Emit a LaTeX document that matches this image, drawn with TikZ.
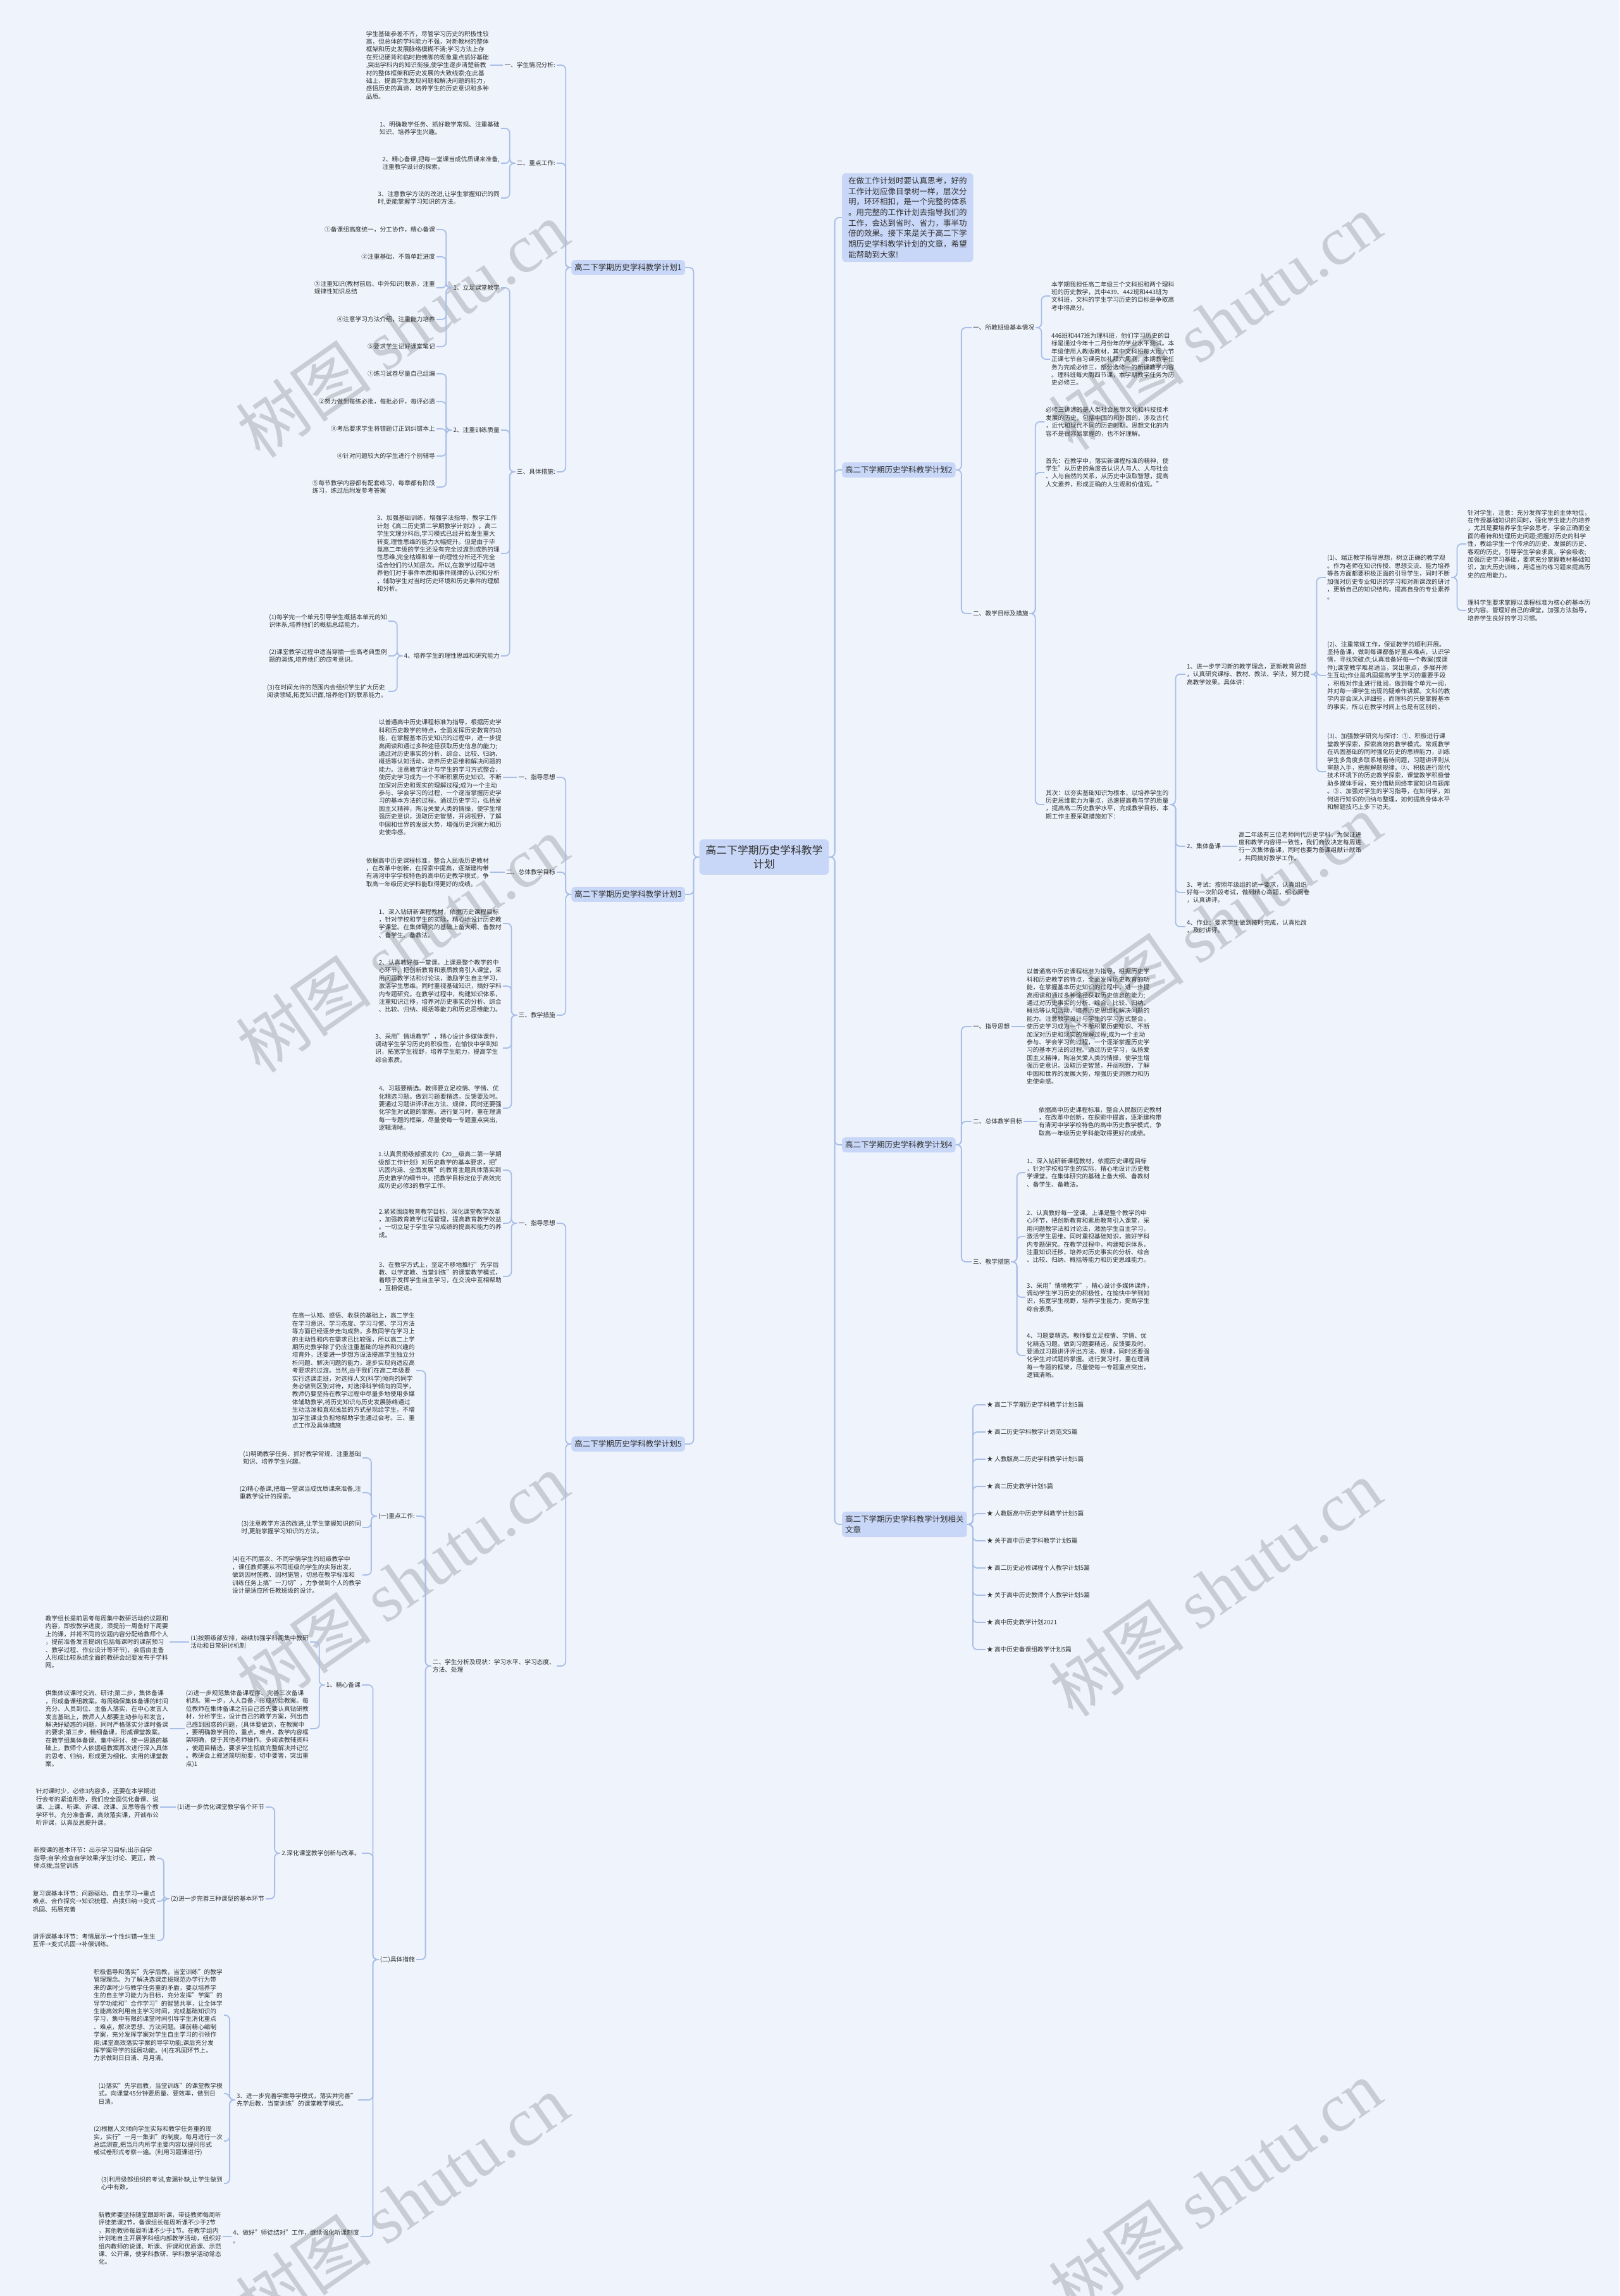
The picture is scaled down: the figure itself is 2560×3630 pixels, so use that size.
\documentclass[tikz,border=0pt]{standalone}
\usepackage{fontspec}
\setmainfont{Noto Sans CJK SC}
\newfontfamily\wmserif{Liberation Serif}
\usetikzlibrary{calc}
\definecolor{bgc}{HTML}{EEF3FC}
\definecolor{nodefill}{HTML}{C8D7F7}
\definecolor{conncol}{HTML}{A8BEE6}
\definecolor{txt}{HTML}{303030}
\definecolor{wmc}{HTML}{C8CCD4}
\newcommand\Lk[2]{\draw[conn] (#1.west) -- ++(-9,0) |- (#2.east);}
\newcommand\Rk[2]{\draw[conn] (#1.east) -- ++(9,0) |- (#2.west);}
\newcommand\Ls[2]{\draw[conn] (#1.west) -- (#2.east |- #1.west);}
\newcommand\Rs[2]{\draw[conn] (#1.east) -- (#2.west |- #1.east);}
\newcommand\mtZhidao{以普通高中历史课程标准为指导，根据历史学\\科和历史教学的特点，全面发挥历史教育的功\\能，在掌握基本历史知识的过程中，进一步提\\高阅读和通过多种途径获取历史信息的能力;\\通过对历史事实的分析、综合、比较、归纳、\\概括等认知活动，培养历史思维和解决问题的\\能力。注意教学设计与学生的学习方式整合，\\使历史学习成为一个不断积累历史知识、不断\\加深对历史和现实的理解过程;成为一个主动\\参与、学会学习的过程，一个逐渐掌握历史学\\习的基本方法的过程。通过历史学习，弘扬爱\\国主义精神，陶冶关爱人类的情操，使学生增\\强历史意识，汲取历史智慧，开阔视野，了解\\中国和世界的发展大势，增强历史洞察力和历\\史使命感。}
\newcommand\mtMubiao{依据高中历史课程标准，整合人民版历史教材\\，在改革中创新，在探索中提高，逐渐建构带\\有清河中学学校特色的高中历史教学模式，争\\取高一年级历史学科能取得更好的成绩。}
\newcommand\mtCsA{1、深入钻研新课程教材，依据历史课程目标\\，针对学校和学生的实际，精心地设计历史教\\学课堂。在集体研究的基础上备大纲、备教材\\、备学生、备教法。}
\newcommand\mtCsB{2、认真教好每一堂课。上课是整个教学的中\\心环节，把创新教育和素质教育引入课堂，采\\用问题教学法和讨论法，激励学生自主学习，\\激活学生思维。同时重视基础知识，搞好学科\\内专题研究。在教学过程中，构建知识体系，\\注重知识迁移，培养对历史事实的分析、综合\\、比较、归纳、概括等能力和历史思维能力。}
\newcommand\mtCsC{3、采用"情境教学"，精心设计多媒体课件，\\调动学生学习历史的积极性，在愉快中学到知\\识，拓宽学生视野，培养学生能力，提高学生\\综合素质。}
\newcommand\mtCsD{4、习题要精选。教师要立足校情、学情、优\\化精选习题。做到习题要精选，反馈要及时。\\要通过习题讲评评出方法、规律，同时还要强\\化学生对试题的掌握。进行复习时，重在理清\\每一专题的框架，尽量使每一专题重点突出，\\逻辑清晰。}
\begin{document}
\begin{tikzpicture}[x=1pt,y=-1pt,
  conn/.style={draw=conncol, line width=1.8pt, rounded corners=7pt},
  lf/.style={font=\fontsize{9.7}{12.4}\selectfont, text=txt, inner sep=2pt, align=left},
  lfl/.style={lf, anchor=east},
  lfr/.style={lf, anchor=west},
  topic/.style={fill=nodefill, rounded corners=5pt, font=\fontsize{12.5}{16.7}\selectfont, text=txt, inner xsep=5pt, inner ysep=6pt, align=left},
  centre/.style={fill=nodefill, rounded corners=6pt, font=\fontsize{16.8}{22}\selectfont, text=txt, inner xsep=10pt, inner ysep=9pt, align=center},
  wmk/.style={text=wmc, font=\fontsize{108}{108}\selectfont, rotate=35}
]
\useasboundingbox (0,0) rectangle (2560,3630);
\fill[bgc] (0,0) rectangle (2560,3630);
% watermarks
\foreach \wx/\wy in {636/521,1921/509,636/1493,1921/1458,636/2500,1921/2511,636/3483,1921/3460}
  \node[wmk] at (\wx,\wy) {树图 {\wmserif shutu.cn}};

% centre
\node[centre] (C) at (1208,1355) {高二下学期历史学科教学\\计划};

% ================= LEFT =================
\node[topic, anchor=east] (p1) at (1083,423) {高二下学期历史学科教学计划1};
\node[topic, anchor=east] (p3) at (1083,1414) {高二下学期历史学科教学计划3};
\node[topic, anchor=east] (p5) at (1083,2283) {高二下学期历史学科教学计划5};

% --- plan 1
\node[lfl] (a1) at (880,103) {一、学生情况分析:};
\node[lfl] (a1c) at (775,103) {学生基础参差不齐，尽管学习历史的积极性较\\高，但总体的学科能力不强，对新教材的整体\\框架和历史发展脉络模糊不清;学习方法上存\\在死记硬背和临时抱佛脚的现象重点抓好基础\\,突出学科内的知识衔接,使学生逐步清楚新教\\材的整体框架和历史发展的大致线索;在此基\\础上，提高学生发现问题和解决问题的能力，\\感悟历史的真谛，培养学生的历史意识和多种\\品质。};
\node[lfl] (a2) at (880,258) {二、重点工作:};
\node[lfl] (a2c1) at (792,203) {1、明确教学任务、抓好教学常规、注重基础\\知识、培养学生兴趣。};
\node[lfl] (a2c2) at (792,258) {2、精心备课,把每一堂课当成优质课来准备,\\注重教学设计的探索。};
\node[lfl] (a2c3) at (792,313) {3、注意教学方法的改进,让学生掌握知识的同\\时,更能掌握学习知识的方法。};
\node[lfl] (a3) at (880,746) {三、具体措施:};
\node[lfl] (b1) at (792,455) {1、立足课堂教学};
\node[lfl] (b2) at (792,680) {2、注重训练质量};
\node[lfl] (b3) at (792,875) {3、加强基础训练，增强学法指导，教学工作\\计划《高二历史第二学期教学计划2》。高二\\学生文理分科后,学习模式已经开始发生重大\\转变,理性思维的能力大幅提升。但是由于毕\\竟高二年级的学生还没有完全过渡到成熟的理\\性思维,完全枯燥和单一的理性分析还不完全\\适合他们的认知层次。所以,在教学过程中培\\养他们对于事件本质和事件规律的认识和分析\\，辅助学生对当时历史环境和历史事件的理解\\和分析。};
\node[lfl] (b4) at (792,1037) {4、培养学生的理性思维和研究能力};
\node[lfl] (c1) at (690,363) {①备课组高度统一，分工协作，精心备课};
\node[lfl] (c2) at (690,406) {②注重基础，不简单赶进度};
\node[lfl] (c3) at (690,455) {③注重知识(教材前后、中外知识)联系，注重\\规律性知识总结};
\node[lfl] (c4) at (690,505) {④注意学习方法介绍，注重能力培养};
\node[lfl] (c5) at (690,548) {⑤要求学生记好课堂笔记};
\node[lfl] (d1) at (690,591) {①练习试卷尽量自己组编};
\node[lfl] (d2) at (690,635) {②努力做到每练必批，每批必评，每评必透};
\node[lfl] (d3) at (690,678) {③考后要求学生将错题订正到纠错本上};
\node[lfl] (d4) at (690,721) {④针对问题较大的学生进行个别辅导};
\node[lfl] (d5) at (690,770) {⑤每节教学内容都有配套练习，每章都有阶段\\练习，练过后附发参考答案};
\node[lfl] (e1) at (614,982) {(1)每学完一个单元引导学生概括本单元的知\\识体系,培养他们的概括总结能力。};
\node[lfl] (e2) at (614,1037) {(2)课堂教学过程中适当穿插一些高考典型例\\题的演练,培养他们的应考意识。};
\node[lfl] (e3) at (614,1093) {(3)在时间允许的范围内会组织学生扩大历史\\阅读领域,拓宽知识面,培养他们的联系能力。};

% --- plan 3
\node[lfl] (f1) at (880,1229) {一、指导思想};
\node[lfl] (f1c) at (795,1229) {\mtZhidao};
\node[lfl] (f2) at (880,1379) {二、总体教学目标};
\node[lfl] (f2c) at (775,1379) {\mtMubiao};
\node[lfl] (f3) at (880,1605) {三、教学措施};
\node[lfl] (g1) at (795,1460) {\mtCsA};
\node[lfl] (g2) at (795,1559) {\mtCsB};
\node[lfl] (g3) at (795,1657) {\mtCsC};
\node[lfl] (g4) at (795,1752) {\mtCsD};

% --- plan 5
\node[lfl] (h1) at (880,1934) {一、指导思想};
\node[lfl] (h1a) at (795,1850) {1.认真贯彻级部颁发的《20\_\_级高二第一学期\\级部工作计划》对历史教学的基本要求，把"\\巩固内涵、全面发展"的教育主题具体落实到\\历史教学的细节中。把教学目标定位于高效完\\成历史必修3的教学工作。};
\node[lfl] (h1b) at (795,1934) {2.紧紧围绕教育教学目标，深化课堂教学改革\\，加强教育教学过程管理，提高教育教学效益\\。一切立足于学生学习成绩的提高和能力的养\\成。};
\node[lfl] (h1c) at (795,2018) {3、在教学方式上，坚定不移地推行"先学后\\教、以学定教、当堂训练"的课堂教学模式，\\着眼于发挥学生自主学习，在交流中互相帮助\\，互相促进。};
\node[lfl] (h2) at (880,2634) {二、学生分析及现状：学习水平、学习态度、\\方法、处理};
\node[lfl] (h2a) at (658,2167) {在高一认知、感悟、收获的基础上，高二学生\\在学习意识、学习态度、学习习惯、学习方法\\等方面已经逐步走向成熟，多数同学在学习上\\的主动性和内在需求已比较强，所以高二上学\\期历史教学除了仍应注重基础的培养和兴趣的\\培育外，还要进一步想方设法提高学生独立分\\析问题、解决问题的能力，逐步实现向适应高\\考要求的过渡。当然,由于我们在高二年级要\\实行选课走班，对选择人文(科学)倾向的同学\\务必做到区别对待，对选择科学倾向的同学，\\教师仍要坚持在教学过程中尽量多地使用多媒\\体辅助教学,将历史知识与历史发展脉络通过\\生动活泼和直观浅显的方式呈现给学生，不增\\加学生课业负担地帮助学生通过会考。三、重\\点工作及具体措施};
\node[lfl] (h2b) at (658,2397) {(一)重点工作:};
\node[lfl] (h2c) at (658,3098) {(二)具体措施};
\node[lfl] (i1) at (573,2305) {(1)明确教学任务、抓好教学常规、注重基础\\知识、培养学生兴趣。};
\node[lfl] (i2) at (573,2360) {(2)精心备课,把每一堂课当成优质课来准备,注\\重教学设计的探索。};
\node[lfl] (i3) at (573,2415) {(3)注意教学方法的改进,让学生掌握知识的同\\时,更能掌握学习知识的方法。};
\node[lfl] (i4) at (573,2490) {(4)在不同层次、不同学情学生的班级教学中\\，课任教师要从不同班级的学生的实际出发，\\做到因材施教、因材施管，切忌在教学标准和\\训练任务上搞"一刀切"，力争做到个人的教学\\设计是适应所任教班级的设计。};
\node[lfl] (j1) at (572,2664) {1、精心备课};
\node[lfl] (j2) at (572,2930) {2.深化课堂教学创新与改革。};
\node[lfl] (j3) at (566,3320) {3、进一步完善学案导学模式，落实并完善"\\先学后教，当堂训练"的课堂教学模式。};
\node[lfl] (j4) at (570,3536) {4、做好"师徒结对"工作，继续强化听课制度\\。};
\node[lfl] (k1) at (490,2596) {(1)按照级部安排，继续加强学科周集中教研\\活动和日常研讨机制};
\node[lfl] (k2) at (490,2733) {(2)进一步规范集体备课程序、完善三次备课\\机制。第一步，人人自备，形成初始教案。每\\位教师在集体备课之前自己首先要认真钻研教\\材，分析学生，设计自己的教学方案，列出自\\己感到困惑的问题，(具体要做到，在教案中\\，要明确教学目的，重点，难点，教学内容框\\架明确，便于其他老师操作。多阅读教辅资料\\，使题目精选，要求学生彻底完整解决并记忆\\。教研会上叙述简明扼要，切中要害，突出重\\点)1};
\node[lfl] (k1c) at (268,2596) {教学组长提前思考每周集中教研活动的议题和\\内容，即按教学进度，须提前一周备好下周要\\上的课，并将不同的议题内容分配给教师个人\\，提前准备发言提纲(包括每课时的课前预习\\、教学过程、作业设计等环节)，会后由主备\\人形成比较系统全面的教研会纪要发布于学科\\网。};
\node[lfl] (k2c) at (268,2733) {供集体议课时交流、研讨;第二步，集体备课\\，形成备课组教案。每周确保集体备课的时间\\充分、人员到位、主备人落实，在中心发言人\\发言基础上，教师人人都要主动参与和发言，\\解决好疑惑的问题，同时严格落实分课时备课\\的要求;第三步，精细备课，形成课堂教案。\\在教学组集体备课、集中研讨、统一思路的基\\础上，教师个人依据组教案再次进行深入具体\\的思考、归纳，形成更为细化、实用的课堂教\\案。};
\node[lfl] (l1) at (420,2857) {(1)进一步优化课堂教学各个环节};
\node[lfl] (l2) at (420,3002) {(2)进一步完善三种课型的基本环节};
\node[lfl] (l1c) at (253,2857) {针对课时少，必修3内容多，还要在本学期进\\行会考的紧迫形势，我们应全面优化备课、说\\课、上课、听课、评课、改课、反思等各个教\\学环节。充分准备课，高效落实课，开诚布公\\听评课，认真反思提升课。};
\node[lfl] (m1) at (248,2938) {新授课的基本环节：出示学习目标;出示自学\\指导;自学;检查自学效果;学生讨论、更正，教\\师点拨;当堂训练};
\node[lfl] (m2) at (248,3006) {复习课基本环节：问题驱动、自主学习→重点\\难点、合作探究→知识梳理、点拨归纳→变式\\巩固、拓展完善};
\node[lfl] (m3) at (248,3068) {讲评课基本环节：考情展示→个性纠错→生生\\互评→变式巩固→补偿训练。};
\node[lfl] (n1) at (354,3186) {积极倡导和落实"先学后教，当堂训练"的教学\\管理理念。为了解决选课走班规范办学行为带\\来的课时少与教学任务重的矛盾，要以培养学\\生的自主学习能力为目标，充分发挥"学案"的\\导学功能和"合作学习"的智慧共享，让全体学\\生能高效利用自主学习时间，完成基础知识的\\学习，集中有限的课堂时间引导学生消化重点\\、难点，解决思想、方法问题。课前精心编制\\学案，充分发挥学案对学生自主学习的引领作\\用;课堂高效落实学案的导学功能;课后充分发\\挥学案导学的延展功能。(4)在巩固环节上，\\力求做到日日清、月月清。};
\node[lfl] (n2) at (354,3310) {(1)落实"先学后教，当堂训练"的课堂教学模\\式。向课堂45分钟要质量、要效率，做到日\\日清。};
\node[lfl] (n3) at (354,3385) {(2)根据人文倾向学生实际和教学任务重的现\\实，实行"一月一集训"的制度。每月进行一次\\总结测查,把当月内所学主要内容以提问形式\\或试卷形式考察一遍。(利用习题课进行)};
\node[lfl] (n4) at (354,3452) {(3)利用级部组织的考试,查漏补缺,让学生做到\\心中有数。};
\node[lfl] (o1) at (352,3539) {新教师要坚持随堂跟踪听课，带徒教师每周听\\评徒弟课2节，备课组长每周听课不少于2节\\，其他教师每周听课不少于1节。在教学组内\\计划地自主开展学科组内部教学活动，组织好\\组内教师的说课、听课、评课和优质课、示范\\课、公开课，使学科教研、学科教学活动常态\\化。};

% ================= RIGHT =================
\node[topic, anchor=west, rounded corners=6pt, inner xsep=10pt, inner ysep=6pt] (intro) at (1331,344) {在做工作计划时要认真思考，好的\\工作计划应像目录树一样，层次分\\明，环环相扣，是一个完整的体系\\。用完整的工作计划去指导我们的\\工作，会达到省时、省力，事半功\\倍的效果。接下来是关于高二下学\\期历史学科教学计划的文章，希望\\能帮助到大家!};
\node[topic, anchor=west] (q2) at (1331,743) {高二下学期历史学科教学计划2};
\node[topic, anchor=west] (q4) at (1331,1810) {高二下学期历史学科教学计划4};
\node[topic, anchor=west] (q6) at (1331,2410) {高二下学期历史学科教学计划相关\\文章};

% --- plan 2
\node[lfr] (r1) at (1536,518) {一、所教班级基本情况};
\node[lfr] (r2) at (1536,970) {二、教学目标及措施};
\node[lfr] (s1) at (1660,468) {本学期我担任高二年级三个文科班和两个理科\\班的历史教学，其中439、442班和443班为\\文科班，文科的学生学习历史的目标是争取高\\考中得高分。};
\node[lfr] (s2) at (1660,568) {446班和447班为理科班，他们学习历史的目\\标是通过今年十二月份年的学业水平测试。本\\年级使用人教版教材，其中文科班每大周六节\\正课七节自习课另加礼拜六周测，本期教学任\\务为完成必修三，部分选修一的新课教学内容\\。理科班每大周四节课，本学期教学任务为历\\史必修三。};
\node[lfr] (t1) at (1651,667) {必修三讲述的是人类社会思想文化和科技技术\\发展的历史，包括中国的和外国的，涉及古代\\，近代和现代不同的历史时期。思想文化的内\\容不是很容易掌握的，也不好理解。};
\node[lfr] (t2) at (1651,747) {首先：在教学中，落实新课程标准的精神，使\\学生"从历史的角度去认识人与人、人与社会\\、人与自然的关系，从历史中汲取智慧，提高\\人文素养，形成正确的人生观和价值观。"};
\node[lfr] (t3) at (1651,1272) {其次：以夯实基础知识为根本，以培养学生的\\历史思维能力为重点，迅速提高教与学的质量\\，提高高二历史教学水平，完成教学目标，本\\期工作主要采取措施如下：};
\node[lfr] (u1) at (1874,1066) {1、进一步学习新的教学理念，更新教育思想\\，认真研究课标、教材、教法、学法，努力提\\高教学效果。具体讲：};
\node[lfr] (u2) at (1874,1338) {2、集体备课};
\node[lfr] (u3) at (1874,1411) {3、考试：按照年级组的统一要求，认真组织\\好每一次阶段考试，做到精心命题，细心阅卷\\，认真讲评。};
\node[lfr] (u4) at (1874,1465) {4、作业：要求学生做到按时完成，认真批改\\，及时讲评。};
\node[lfr] (u2c) at (1956,1338) {高二年级有三位老师同代历史学科，为保证进\\度和教学内容得一致性，我们商议决定每周进\\行一次集体备课，同时也要为备课组献计献策\\，共同搞好教学工作。};
\node[lfr] (v1) at (2096,913) {(1)、端正教学指导思想，树立正确的教学观\\。作为老师在知识传授、思想交流、能力培养\\等各方面都要积极正面的引导学生，同时不断\\加强对历史专业知识的学习和对新课改的研讨\\，更新自己的知识结构，提高自身的专业素养\\。};
\node[lfr] (v2) at (2096,1068) {(2)、注重常规工作，保证教学的顺利开展。\\坚持备课，做到每课都备好重点难点，认识学\\情，寻找突破点;认真准备好每一个教案(或课\\件);课堂教学难易适当，突出重点，多展开师\\生互动;作业是巩固提高学生学习的重要手段\\，积极对作业进行批阅，做到每个单元一阅，\\并对每一课学生出现的疑难作讲解。文科的教\\学内容会深入详细些，而理科的只是掌握基本\\的事实，所以在教学时间上也是有区别的。};
\node[lfr] (v3) at (2096,1220) {(3)、加强教学研究与探讨：①、积极进行课\\堂教学探索，探索高效的教学模式。常规教学\\在巩固基础的同时强化历史的思辨能力，训练\\学生多角度多联系地看待问题，习题讲评则从\\审题入手，把握解题规律。②、积极进行现代\\技术环境下的历史教学探索，课堂教学积极借\\助多媒体手段，充分借助网络丰富知识与题库\\。③、加强对学生的学习指导，在如何学，如\\何进行知识的归纳与整理，如何提高身体水平\\和解题技巧上多下功夫。};
\node[lfr] (w1) at (2318,860) {针对学生，注意：充分发挥学生的主体地位，\\在传授基础知识的同时，强化学生能力的培养\\，尤其是要培养学生学会思考，学会正确而全\\面的看待和处理历史问题;把握好历史的科学\\性，教给学生一个传承的历史、发展的历史、\\客观的历史，引导学生学会求真，学会吸收;\\加强历史学习基础，要求充分掌握教材基础知\\识，加大历史训练，用适当的练习题来提高历\\史的应用能力。};
\node[lfr] (w2) at (2318,965) {理科学生要求掌握以课程标准为核心的基本历\\史内容。管理好自己的课堂，加强方法指导，\\培养学生良好的学习习惯。};

% --- plan 4
\node[lfr] (x1) at (1536,1623) {一、指导思想};
\node[lfr] (x2) at (1536,1773) {二、总体教学目标};
\node[lfr] (x3) at (1536,1995) {三、教学措施};
\node[lfr] (x1c) at (1621,1623) {\mtZhidao};
\node[lfr] (x2c) at (1640,1773) {\mtMubiao};
\node[lfr] (y1) at (1621,1854) {\mtCsA};
\node[lfr] (y2) at (1621,1955) {\mtCsB};
\node[lfr] (y3) at (1621,2051) {\mtCsC};
\node[lfr] (y4) at (1621,2143) {\mtCsD};

% --- related
\node[lfr] (z1) at (1558,2221) {★ 高二下学期历史学科教学计划5篇};
\node[lfr] (z2) at (1558,2264) {★ 高二历史学科教学计划范文5篇};
\node[lfr] (z3) at (1558,2307) {★ 人教版高二历史学科教学计划5篇};
\node[lfr] (z4) at (1558,2350) {★ 高二历史教学计划5篇};
\node[lfr] (z5) at (1558,2393) {★ 人教版高中历史学科教学计划5篇};
\node[lfr] (z6) at (1558,2436) {★ 关于高中历史学科教学计划5篇};
\node[lfr] (z7) at (1558,2479) {★ 高二历史必修课程个人教学计划5篇};
\node[lfr] (z8) at (1558,2522) {★ 关于高中历史教师个人教学计划5篇};
\node[lfr] (z9) at (1558,2565) {★ 高中历史教学计划2021};
\node[lfr] (z10) at (1558,2608) {★ 高中历史备课组教学计划5篇};

% ================= CONNECTORS =================
\Lk{C}{p1}\Lk{C}{p3}\Lk{C}{p5}
\Rk{C}{intro}\Rk{C}{q2}\Rk{C}{q4}\Rk{C}{q6}
\Lk{p1}{a1}\Lk{p1}{a2}\Lk{p1}{a3}
\Ls{a1}{a1c}
\Lk{a2}{a2c1}\Lk{a2}{a2c2}\Lk{a2}{a2c3}
\Lk{a3}{b1}\Lk{a3}{b2}\Lk{a3}{b3}\Lk{a3}{b4}
\Lk{b1}{c1}\Lk{b1}{c2}\Lk{b1}{c3}\Lk{b1}{c4}\Lk{b1}{c5}
\Lk{b2}{d1}\Lk{b2}{d2}\Lk{b2}{d3}\Lk{b2}{d4}\Lk{b2}{d5}
\Lk{b4}{e1}\Lk{b4}{e2}\Lk{b4}{e3}
\Lk{p3}{f1}\Lk{p3}{f2}\Lk{p3}{f3}
\Ls{f1}{f1c}\Ls{f2}{f2c}
\Lk{f3}{g1}\Lk{f3}{g2}\Lk{f3}{g3}\Lk{f3}{g4}
\Lk{p5}{h1}\Lk{p5}{h2}
\Lk{h1}{h1a}\Lk{h1}{h1b}\Lk{h1}{h1c}
\Lk{h2}{h2a}\Lk{h2}{h2b}\Lk{h2}{h2c}
\Lk{h2b}{i1}\Lk{h2b}{i2}\Lk{h2b}{i3}\Lk{h2b}{i4}
\Lk{h2c}{j1}\Lk{h2c}{j2}\Lk{h2c}{j3}\Lk{h2c}{j4}
\Lk{j1}{k1}\Lk{j1}{k2}
\Ls{k1}{k1c}\Ls{k2}{k2c}
\Lk{j2}{l1}\Lk{j2}{l2}
\Ls{l1}{l1c}
\Lk{l2}{m1}\Lk{l2}{m2}\Lk{l2}{m3}
\Lk{j3}{n1}\Lk{j3}{n2}\Lk{j3}{n3}\Lk{j3}{n4}
\Ls{j4}{o1}
\Rk{q2}{r1}\Rk{q2}{r2}
\Rk{r1}{s1}\Rk{r1}{s2}
\Rk{r2}{t1}\Rk{r2}{t2}\Rk{r2}{t3}
\Rk{t3}{u1}\Rk{t3}{u2}\Rk{t3}{u3}\Rk{t3}{u4}
\Rs{u2}{u2c}
\Rk{u1}{v1}\Rk{u1}{v2}\Rk{u1}{v3}
\Rk{v1}{w1}\Rk{v1}{w2}
\Rk{q4}{x1}\Rk{q4}{x2}\Rk{q4}{x3}
\Rs{x1}{x1c}\Rs{x2}{x2c}
\Rk{x3}{y1}\Rk{x3}{y2}\Rk{x3}{y3}\Rk{x3}{y4}
\Rk{q6}{z1}\Rk{q6}{z2}\Rk{q6}{z3}\Rk{q6}{z4}\Rk{q6}{z5}
\Rk{q6}{z6}\Rk{q6}{z7}\Rk{q6}{z8}\Rk{q6}{z9}\Rk{q6}{z10}
\end{tikzpicture}
\end{document}
